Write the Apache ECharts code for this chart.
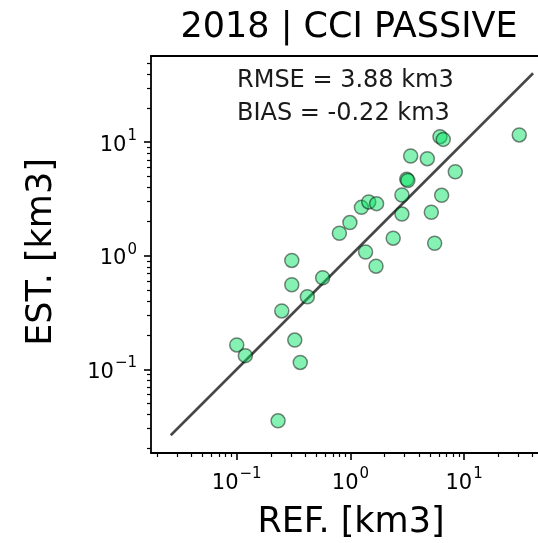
<!DOCTYPE html>
<html>
<head>
<meta charset="utf-8">
<script src="https://cdn.jsdelivr.net/npm/echarts@6/dist/echarts.min.js"></script>
<style>
  html, body { margin: 0; padding: 0; background: #fff; }
  #chart { width: 538px; height: 543px; }
</style>
</head>
<body>
<div id="chart"></div>
<script>
// Reference vs. estimated volumes (km3), one point per lake
const refValues = [30.6, 6.14, 6.56, 3.39, 4.75, 8.37, 3.13, 3.20, 2.84, 6.35, 1.25, 1.45, 1.70, 2.84, 5.15, 0.99, 0.80, 2.38, 5.51, 1.36, 1.68, 0.305, 0.305, 0.57, 0.418, 0.249, 0.100, 0.119, 0.324, 0.362, 0.231];
const estValues = [11.6, 11.2, 10.6, 7.57, 7.17, 5.5, 4.72, 4.60, 3.43, 3.41, 2.67, 2.98, 2.88, 2.33, 2.42, 1.96, 1.58, 1.43, 1.29, 1.08, 0.81, 0.91, 0.556, 0.64, 0.436, 0.327, 0.164, 0.132, 0.181, 0.115, 0.0352];

// 1:1 reference line end points
const identityLine = [0.02625, 40.5];

// Axis ticks
const majorTicks = [0.1, 1, 10];
const xMinorTicks = [0.02, 0.03, 0.04, 0.05, 0.06, 0.07, 0.08, 0.09, 0.2, 0.3, 0.4, 0.5, 0.6, 0.7, 0.8, 0.9, 2, 3, 4, 5, 6, 7, 8, 9, 20, 30, 40, 50];
const yMinorTicks = [0.02, 0.03, 0.04, 0.05, 0.06, 0.07, 0.08, 0.09, 0.2, 0.3, 0.4, 0.5, 0.6, 0.7, 0.8, 0.9, 2, 3, 4, 5, 6, 7, 8, 9, 20, 30, 40, 50];
const tickExponents = { 0.1: '\u22121', 1: '0', 10: '1' };

// Texts
const titleText = '2018 | CCI PASSIVE';
const xLabel = 'REF. [km3]';
const yLabel = 'EST. [km3]';
const statLines = ['RMSE = 3.88 km3', 'BIAS = -0.22 km3'];

const X_MIN = 0.0176, X_MAX = 59.4;
const Y_MIN = 0.01832, Y_MAX = 57.5;
const FONT = '"DejaVu Sans", sans-serif';

const points = refValues.map((r, i) => [r, estValues[i]]);

function keyOf(v) { return Math.abs(v - 0.1) < 1e-9 ? 0.1 : Math.round(v); }
// "10" with a raised exponent
function powLabel(v) {
  return '{b|10}{s|' + tickExponents[keyOf(v)] + '}';
}
const labelRich = {
  b: { fontSize: 21, fontFamily: FONT, color: '#000', lineHeight: 27, verticalAlign: 'bottom' },
  s: { fontSize: 15, fontFamily: FONT, color: '#000', lineHeight: 27, verticalAlign: 'top', padding: [0, 0, 0, 1] }
};

const chart = echarts.init(document.getElementById('chart'), null, { renderer: 'canvas' });

const baseX = { type: 'log', logBase: 10, min: X_MIN, max: X_MAX, gridIndex: 0, splitLine: { show: false } };
const baseY = { type: 'log', logBase: 10, min: Y_MIN, max: Y_MAX, gridIndex: 0, splitLine: { show: false } };
const labelBase = { fontSize: 21, fontFamily: FONT, color: '#000', formatter: powLabel, rich: labelRich };

chart.setOption({
  animation: false,
  backgroundColor: '#fff',
  // the plot box runs a little past the right edge of the canvas
  grid: { left: 151, top: 56, width: 401, height: 397, containLabel: false, outerBoundsMode: 'none' },
  xAxis: [
    Object.assign({}, baseX, {
      position: 'bottom',
      axisLine: { show: true, lineStyle: { color: '#000', width: 1.8 } },
      axisTick: { show: true, customValues: majorTicks, length: 7, lineStyle: { color: '#000', width: 1.6 } },
      axisLabel: Object.assign({ show: true, customValues: majorTicks, margin: 14 }, labelBase)
    }),
    Object.assign({}, baseX, {
      position: 'bottom',
      axisLine: { show: false },
      axisTick: { show: true, customValues: xMinorTicks, length: 4, lineStyle: { color: '#000', width: 1.2 } },
      axisLabel: { show: false }
    }),
    Object.assign({}, baseX, {
      position: 'top',
      axisLine: { show: true, lineStyle: { color: '#000', width: 1.8 } },
      axisTick: { show: false },
      axisLabel: { show: false }
    })
  ],
  yAxis: [
    Object.assign({}, baseY, {
      position: 'left',
      axisLine: { show: true, lineStyle: { color: '#000', width: 1.8 } },
      axisTick: { show: true, customValues: majorTicks, length: 7, lineStyle: { color: '#000', width: 1.6 } },
      axisLabel: Object.assign({ show: true, customValues: majorTicks, margin: 14 }, labelBase)
    }),
    Object.assign({}, baseY, {
      position: 'left',
      axisLine: { show: false },
      axisTick: { show: true, customValues: yMinorTicks, length: 4, lineStyle: { color: '#000', width: 1.2 } },
      axisLabel: { show: false }
    })
  ],
  series: [
    {
      type: 'line',
      xAxisIndex: 0, yAxisIndex: 0,
      data: identityLine.map(v => [v, v]),
      symbol: 'none',
      lineStyle: { color: 'rgba(0,0,0,0.72)', width: 2.6 },
      z: 2
    },
    {
      type: 'scatter',
      xAxisIndex: 0, yAxisIndex: 0,
      data: points,
      symbol: 'circle',
      symbolSize: 14,
      itemStyle: { color: 'rgba(0,228,97,0.6)', borderColor: 'rgba(0,0,0,0.6)', borderWidth: 1.5 },
      z: 3
    }
  ],
  graphic: [
    { type: 'text', x: 349, y: 28, style: { text: titleText, fontSize: 35, fontFamily: FONT, fill: '#000', align: 'center', verticalAlign: 'middle' } },
    { type: 'text', x: 351, y: 523, style: { text: xLabel, fontSize: 35, fontFamily: FONT, fill: '#000', align: 'center', verticalAlign: 'middle' } },
    { type: 'text', x: 42, y: 252, rotation: Math.PI / 2, style: { text: yLabel, fontSize: 35, fontFamily: FONT, fill: '#000', align: 'center', verticalAlign: 'middle' } },
    { type: 'text', x: 237, y: 81, style: { text: statLines[0], fontSize: 24, fontFamily: FONT, fill: '#1a1a1a', align: 'left', verticalAlign: 'middle' } },
    { type: 'text', x: 237, y: 114, style: { text: statLines[1], fontSize: 24, fontFamily: FONT, fill: '#1a1a1a', align: 'left', verticalAlign: 'middle' } }
  ]
});
</script>
</body>
</html>
